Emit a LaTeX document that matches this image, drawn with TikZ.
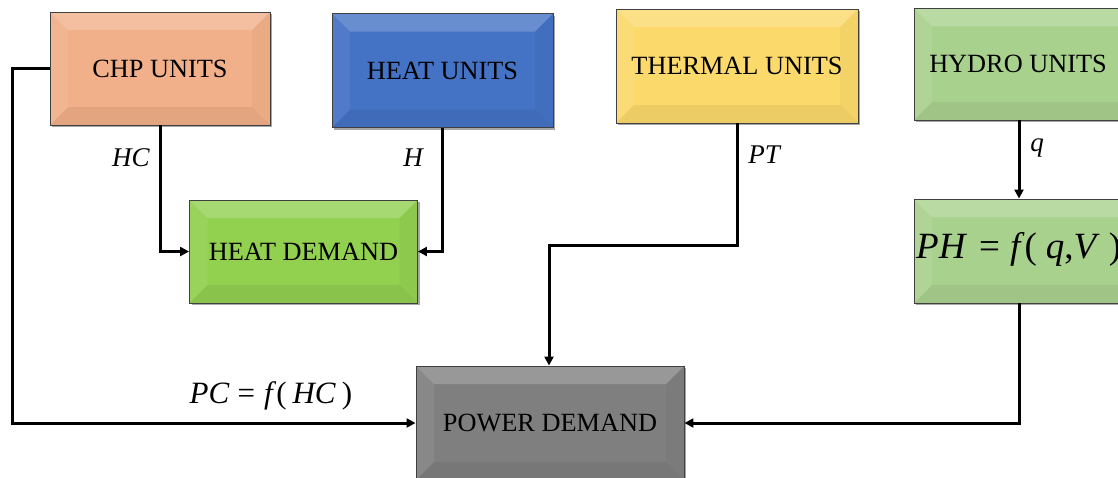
\documentclass[tikz,border=0pt]{standalone}
\usepackage{fontspec}
\setmainfont{Liberation Serif}
\usetikzlibrary{arrows.meta,shadows}
\definecolor{chpc}{HTML}{F1B089}
\definecolor{heatc}{HTML}{4472C4}
\definecolor{thermc}{HTML}{FBD96B}
\definecolor{hydroc}{HTML}{A9D18E}
\definecolor{hdc}{HTML}{92D050}
\definecolor{pdc}{HTML}{7F7F7F}
\tikzset{
  bevel/.style={path picture={
    \coordinate (bnw) at (path picture bounding box.north west);
    \coordinate (bne) at (path picture bounding box.north east);
    \coordinate (bsw) at (path picture bounding box.south west);
    \coordinate (bse) at (path picture bounding box.south east);
    \fill[white,opacity=.20] (bnw) -- (bne) -- ([xshift=-18pt,yshift=-18pt]bne) -- ([xshift=18pt,yshift=-18pt]bnw) -- cycle;
    \fill[white,opacity=.07] (bnw) -- ([xshift=18pt,yshift=-18pt]bnw) -- ([xshift=18pt,yshift=18pt]bsw) -- (bsw) -- cycle;
    \fill[black,opacity=.03] (bne) -- ([xshift=-18pt,yshift=-18pt]bne) -- ([xshift=-18pt,yshift=18pt]bse) -- (bse) -- cycle;
    \fill[black,opacity=.06] (bsw) -- ([xshift=18pt,yshift=18pt]bsw) -- ([xshift=-18pt,yshift=18pt]bse) -- (bse) -- cycle;
  }},
  box/.style={draw=black!75, line width=0.9pt, bevel, inner sep=0pt,
    drop shadow={shadow xshift=2pt,shadow yshift=-2pt,fill=black,opacity=.35},
    font=\fontsize{26.3}{29}\selectfont, text=black},
  conn/.style={line width=3pt, -{Triangle[length=9pt,width=9pt]}},
  lab/.style={font=\fontsize{27}{30}\selectfont\itshape, inner sep=0pt},
}
\begin{document}
\begin{tikzpicture}[x=1pt,y=-1pt]
\useasboundingbox (0,0) rectangle (1118,477);
% boxes
\node[box, fill=chpc, minimum width=220pt, minimum height=113pt] (chp) at (160,68.5) {CHP UNITS};
\node[box, fill=heatc, minimum width=221pt, minimum height=114pt] (hu) at (442.5,70.5) {\raisebox{-2pt}{HEAT UNITS}};
\node[box, fill=thermc, minimum width=242pt, minimum height=114pt] (th) at (737,66) {THERMAL UNITS};
\node[box, fill=hydroc, minimum width=222pt, minimum height=112pt] (hy) at (1025,64) {};
\node[font=\fontsize{26.3}{29}\selectfont, text=black] (hyt) at (1018,64) {HYDRO UNITS};
\node[box, fill=hydroc, minimum width=222pt, minimum height=104pt] (ph) at (1025,251) {};
\node[anchor=west, font=\fontsize{37}{40}\selectfont, inner sep=0pt] (pht) at (916,249) {\textit{PH}\hspace{12pt}=\hspace{10pt}\textit{f}(\hspace{9pt}\textit{q},\textit{V}\hspace{9pt})};
\node[box, fill=hdc, minimum width=228pt, minimum height=103pt] (hd) at (303.5,251.5) {HEAT DEMAND};
\node[box, fill=pdc, minimum width=268pt, minimum height=114pt] (pd) at (550,423) {POWER DEMAND};
% coordinates
\coordinate (lc) at (12,423);
\coordinate (tc) at (549,245);
\coordinate (hyb) at (1019,120);
% connectors
\draw[conn] (chp.west) -| (lc) -- (pd.west);
\draw[conn] (chp.south) |- (hd.west);
\draw[conn] (hu.south) |- (hd.east);
\draw[conn] (th.south) |- (tc) -- (tc |- pd.north);
\draw[conn] (hyb) -- (hyb |- ph.north);
\draw[conn] (hyb |- ph.south) |- (pd.east);
% labels
\node[lab] (lhc) at (131,158) {HC};
\node[lab] (lh) at (413,158) {H};
\node[lab] (lpt) at (764,155) {PT};
\node[lab] (lq) at (1037,148) {q};
\node[font=\fontsize{31}{33}\selectfont, inner sep=0pt] (lpc) at (271,396) {\textit{PC}\hspace{8pt}=\hspace{9pt}\textit{f}(\hspace{6pt}\textit{HC}\hspace{6pt})};
\end{tikzpicture}
\end{document}
